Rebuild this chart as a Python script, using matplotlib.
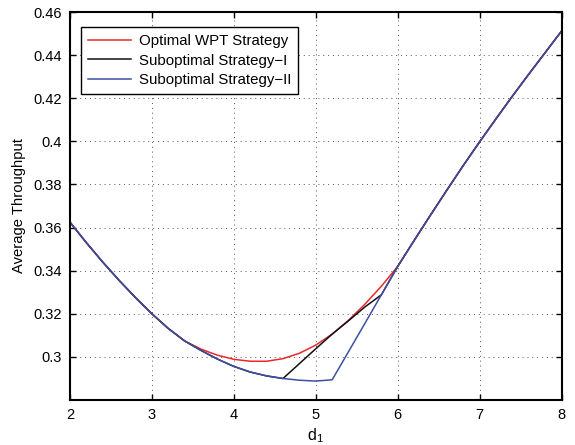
import matplotlib
matplotlib.use("Agg")
from matplotlib import pyplot as plt
from matplotlib.ticker import FuncFormatter

# d1 sample points
d1 = [2.0, 2.2, 2.4, 2.6, 2.8, 3.0, 3.2, 3.4, 3.6, 3.8,
      4.0, 4.2, 4.4, 4.6, 4.8, 5.0, 5.2, 5.4, 5.6, 5.8,
      6.0, 6.2, 6.4, 6.6, 6.8, 7.0, 7.2, 7.4, 7.6, 7.8, 8.0]

optimal = [0.3625, 0.3530, 0.3440, 0.3355, 0.3275, 0.3200, 0.3132, 0.3074, 0.3036, 0.3008,
           0.2989, 0.2980, 0.2980, 0.2992, 0.3017, 0.3055, 0.3106, 0.3170, 0.3245, 0.3328,
           0.3420, 0.3540, 0.3658, 0.3774, 0.3888, 0.3998, 0.4105, 0.4210, 0.4312, 0.4412, 0.4512]

subopt_1 = [0.3625, 0.3530, 0.3440, 0.3355, 0.3275, 0.3200, 0.3132, 0.3074, 0.3030, 0.2990,
            0.2956, 0.2930, 0.2912, 0.2900, 0.2969, 0.3038, 0.3106, 0.3168, 0.3232, 0.3288,
            0.3420, 0.3540, 0.3658, 0.3774, 0.3888, 0.3998, 0.4105, 0.4210, 0.4312, 0.4412, 0.4512]

subopt_2 = [0.3625, 0.3530, 0.3440, 0.3355, 0.3275, 0.3200, 0.3132, 0.3074, 0.3030, 0.2990,
            0.2956, 0.2930, 0.2912, 0.2900, 0.2892, 0.2888, 0.2894, 0.3025, 0.3156, 0.3288,
            0.3420, 0.3540, 0.3658, 0.3774, 0.3888, 0.3998, 0.4105, 0.4210, 0.4312, 0.4412, 0.4512]

labels = ["Optimal WPT Strategy", "Suboptimal Strategy\u2212I", "Suboptimal Strategy\u2212II"]
colors = ["#e8282c", "#111111", "#3e4fa3"]

x_ticks = [2, 3, 4, 5, 6, 7, 8]
y_ticks = [0.30, 0.32, 0.34, 0.36, 0.38, 0.40, 0.42, 0.44, 0.46]


def main() -> None:
    plt.rcParams["font.family"] = ["Liberation Sans", "DejaVu Sans"]
    plt.rcParams["mathtext.fontset"] = "custom"
    plt.rcParams["mathtext.rm"] = "Liberation Sans"

    fig = plt.figure(figsize=(5.75, 4.45), dpi=100)
    ax = fig.add_axes([0.1217, 0.101, 0.855, 0.872])

    for series, label, color in zip([optimal, subopt_1, subopt_2], labels, colors):
        ax.plot(d1, series, color=color, lw=1.1, label=label)

    ax.set_xlim(2, 8)
    ax.set_ylim(0.28, 0.46)
    ax.set_xticks(x_ticks)
    ax.set_yticks(y_ticks)
    ax.yaxis.set_major_formatter(FuncFormatter(lambda v, p: f"{v:g}"))

    ax.grid(True, linestyle=(0, (1, 4)), color="#555555", linewidth=0.7)
    ax.tick_params(direction="in", length=4, width=1, top=True, right=True,
                   labelsize=10.5, colors="black", pad=6)
    for spine in ax.spines.values():
        spine.set_linewidth(1.5)

    ax.set_xlabel(r"$\mathregular{d_1}$", fontsize=11.5, labelpad=3)
    ax.set_ylabel("Average Throughput", fontsize=10.6, labelpad=5)

    leg = ax.legend(loc="upper left", bbox_to_anchor=(0.022, 0.961), fontsize=10.8,
                    fancybox=False, framealpha=1, edgecolor="black",
                    handlelength=2.9, labelspacing=0.38, borderpad=0.45,
                    handletextpad=0.55, borderaxespad=0)
    leg.get_frame().set_linewidth(1.0)

    fig.savefig("out.png", dpi=100)


if __name__ == "__main__":
    main()
